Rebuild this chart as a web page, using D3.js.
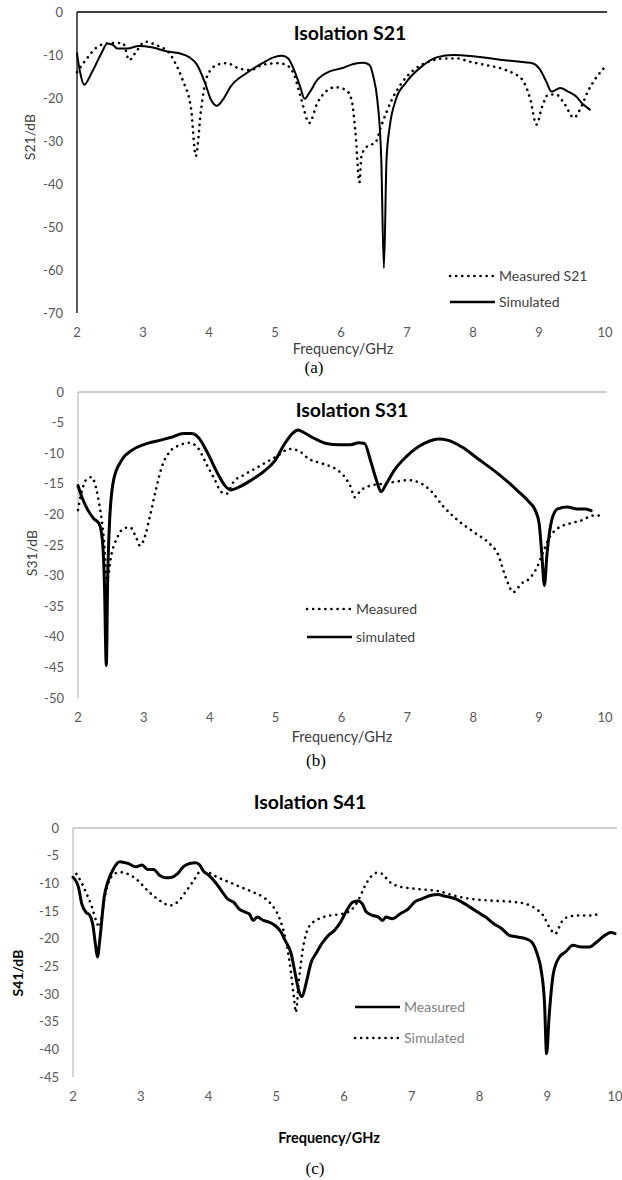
<!DOCTYPE html>
<html>
<head>
<meta charset="utf-8">
<script src="https://cdn.jsdelivr.net/npm/d3@7"></script>
<style>
  body { margin: 0; background: #fff; }
  text { font-family: Lato, "Open Sans", sans-serif; }
</style>
</head>
<body>
<div id="chart"></div>
<script>

// ---- data: [frequency GHz, dB] ----
const freqTicks = [2, 3, 4, 5, 6, 7, 8, 9, 10];
const s21Ticks = [0, -10, -20, -30, -40, -50, -60, -70];
const s31Ticks = [0, -5, -10, -15, -20, -25, -30, -35, -40, -45, -50];
const s41Ticks = [0, -5, -10, -15, -20, -25, -30, -35, -40, -45];

const s21Measured = [[2,-14],[2.13,-11.2],[2.31,-8.1],[2.46,-7.3],[2.64,-7.2],[2.7,-7.3],[2.79,-11.2],[2.88,-9.6],[3.03,-6.9],[3.2,-7.7],[3.4,-9.6],[3.49,-11.9],[3.6,-15.8],[3.73,-22.7],[3.8,-33.5],[3.88,-22.7],[3.97,-15],[4.12,-12.3],[4.27,-11.9],[4.45,-13.1],[4.63,-13.5],[4.81,-12.3],[5.05,-11.9],[5.17,-12.3],[5.29,-14.6],[5.4,-20.4],[5.52,-25.8],[5.64,-21.2],[5.77,-18.5],[5.91,-17.5],[6.07,-18.1],[6.16,-20.4],[6.22,-28.1],[6.28,-39.6],[6.31,-33.5],[6.4,-31.2],[6.52,-30.4],[6.61,-26.5],[6.77,-20.4],[6.92,-16.5],[7.1,-13.5],[7.34,-11.5],[7.58,-10.8],[7.76,-10.8],[7.94,-11.5],[8.18,-12.3],[8.42,-13.1],[8.6,-14.2],[8.75,-15.8],[8.87,-20.4],[8.96,-26.2],[9.05,-21.9],[9.14,-19.2],[9.26,-19.2],[9.38,-21.2],[9.53,-24.6],[9.62,-22.7],[9.74,-18.5],[9.86,-15.4],[9.98,-13.1]];
const s21Simulated = [[2,-9.6],[2.04,-13.5],[2.11,-16.9],[2.22,-14.2],[2.37,-9.6],[2.46,-7.3],[2.55,-7.7],[2.61,-8.5],[2.76,-8.5],[2.94,-7.9],[3.13,-8.2],[3.37,-9.2],[3.55,-9.6],[3.7,-10.5],[3.82,-12.3],[3.94,-16.5],[4.03,-20.4],[4.12,-21.8],[4.21,-20.4],[4.33,-17.3],[4.57,-14.2],[4.81,-11.9],[4.99,-10.5],[5.11,-10.2],[5.2,-10.8],[5.29,-13.5],[5.38,-17.3],[5.45,-20.2],[5.52,-18.8],[5.64,-15.8],[5.83,-13.8],[6.01,-13.1],[6.19,-12.1],[6.34,-11.8],[6.43,-12.3],[6.49,-15],[6.55,-20.4],[6.61,-34.2],[6.65,-59.6],[6.69,-34.2],[6.74,-26.5],[6.83,-20.4],[6.98,-16.5],[7.22,-12.7],[7.46,-10.5],[7.7,-10],[8.06,-10.4],[8.48,-11.2],[8.78,-11.7],[8.9,-11.9],[9.02,-13.5],[9.11,-16.2],[9.19,-18.5],[9.32,-17.7],[9.44,-18.5],[9.56,-19.6],[9.65,-21.2],[9.77,-22.7]];

const s31Measured = [[2,-19.3],[2.06,-16.1],[2.12,-14.4],[2.21,-13.9],[2.27,-15.5],[2.33,-18.8],[2.39,-23.7],[2.44,-30.8],[2.51,-26.4],[2.6,-23.7],[2.69,-22.3],[2.79,-22.1],[2.88,-23.7],[2.94,-25.1],[3.03,-23.1],[3.09,-20.4],[3.18,-16.1],[3.27,-12.3],[3.39,-9.8],[3.54,-8.7],[3.69,-8.3],[3.81,-9],[3.96,-12],[4.08,-14.4],[4.17,-16.3],[4.26,-16.6],[4.36,-14.7],[4.51,-13.6],[4.69,-12.5],[4.87,-11.4],[5.05,-10.3],[5.2,-9.3],[5.35,-9.6],[5.5,-10.9],[5.71,-11.7],[5.9,-12.5],[6.05,-13.9],[6.14,-15.5],[6.2,-17.2],[6.29,-16.1],[6.44,-15.3],[6.62,-15],[6.8,-14.7],[7.01,-14.4],[7.22,-15],[7.37,-16.3],[7.53,-18.5],[7.77,-21],[8.01,-22.9],[8.25,-24.8],[8.37,-26.4],[8.49,-30.2],[8.61,-32.7],[8.73,-31.3],[8.85,-30.5],[8.97,-28.6],[9.07,-25.9],[9.16,-23.7],[9.28,-22.3],[9.46,-21.5],[9.64,-21],[9.82,-20.2],[9.99,-20.2]];
const s31Simulated = [[2,-15.3],[2.06,-17.2],[2.15,-19.3],[2.24,-20.7],[2.32,-21.5],[2.37,-24.2],[2.4,-30.8],[2.43,-44.7],[2.45,-30.8],[2.48,-21],[2.54,-14.4],[2.66,-11.2],[2.82,-9.5],[3,-8.6],[3.24,-7.9],[3.42,-7.4],[3.6,-6.8],[3.72,-6.8],[3.84,-7.6],[3.96,-9.8],[4.11,-13.1],[4.23,-15.3],[4.32,-16],[4.45,-15.5],[4.63,-14.4],[4.84,-12.8],[4.99,-11.2],[5.14,-8.4],[5.26,-6.7],[5.34,-6.2],[5.44,-6.7],[5.59,-7.6],[5.77,-8.4],[5.96,-8.6],[6.14,-8.6],[6.26,-8.3],[6.35,-8.4],[6.44,-11.2],[6.53,-14.4],[6.6,-16.3],[6.68,-15],[6.8,-12.8],[6.98,-10.6],[7.16,-9],[7.34,-8],[7.47,-7.7],[7.62,-7.9],[7.83,-9],[8.07,-10.9],[8.37,-13.3],[8.67,-16.1],[8.85,-18],[8.94,-19.3],[9,-21.5],[9.04,-26.4],[9.08,-31.6],[9.12,-26.4],[9.19,-21],[9.28,-19.1],[9.43,-18.8],[9.58,-19.1],[9.7,-19.1],[9.79,-19.4]];

const s41Measured = [[2,-8.9],[2.08,-10.7],[2.13,-13.7],[2.19,-15.2],[2.25,-15.8],[2.29,-17.3],[2.33,-20.9],[2.36,-23.3],[2.4,-19.7],[2.46,-12.5],[2.52,-9.5],[2.6,-7.3],[2.69,-6.1],[2.81,-6.4],[2.93,-7],[3.02,-6.7],[3.1,-7.5],[3.19,-7.5],[3.28,-8.6],[3.37,-9],[3.46,-8.9],[3.54,-8.3],[3.63,-7],[3.72,-6.4],[3.81,-6.3],[3.87,-6.7],[3.92,-7.7],[4.01,-8.6],[4.1,-9.8],[4.19,-11.3],[4.28,-12.8],[4.37,-13.4],[4.45,-14.6],[4.54,-15.2],[4.6,-15.5],[4.66,-16.7],[4.72,-16.1],[4.81,-16.7],[4.89,-17],[4.98,-17.6],[5.07,-18.8],[5.13,-20.3],[5.22,-22.7],[5.27,-25.7],[5.33,-29.3],[5.38,-30.5],[5.44,-28.1],[5.51,-24.5],[5.6,-22.4],[5.69,-20.6],[5.77,-19.4],[5.86,-18.5],[5.95,-17],[6.04,-14.9],[6.13,-13.4],[6.21,-13.2],[6.27,-13.7],[6.33,-15.2],[6.42,-15.8],[6.51,-16.1],[6.57,-16.7],[6.62,-16.1],[6.71,-16.4],[6.83,-15.5],[6.95,-14.6],[7.04,-13.4],[7.15,-12.8],[7.27,-12.2],[7.39,-12],[7.48,-12.3],[7.56,-12.5],[7.65,-12.8],[7.74,-13.4],[7.86,-14.3],[7.97,-15.2],[8.09,-16.1],[8.21,-17.3],[8.33,-18.2],[8.44,-19.4],[8.56,-19.7],[8.68,-20],[8.77,-20.6],[8.85,-22.7],[8.91,-25.7],[8.96,-31.7],[8.99,-40.8],[9.03,-33.6],[9.09,-26.3],[9.18,-23.3],[9.27,-22.4],[9.38,-21.2],[9.5,-21.5],[9.62,-21.5],[9.73,-20.6],[9.85,-19.4],[9.94,-18.9],[10,-19.1]];
const s41Simulated = [[2.05,-8.3],[2.11,-9.5],[2.19,-11.6],[2.28,-14.3],[2.34,-16.7],[2.39,-17.9],[2.43,-15.5],[2.49,-11.3],[2.58,-8.6],[2.69,-8],[2.81,-8.3],[2.96,-9.5],[3.1,-11.3],[3.28,-13.1],[3.43,-14],[3.54,-13.4],[3.66,-11.6],[3.78,-9.5],[3.87,-8],[3.98,-8],[4.13,-8.9],[4.31,-9.8],[4.48,-10.7],[4.66,-11.6],[4.81,-12.5],[4.92,-13.7],[5.04,-16.1],[5.13,-19.7],[5.2,-24.5],[5.26,-30.5],[5.29,-33.3],[5.33,-28.1],[5.39,-22.1],[5.48,-17.9],[5.63,-16.4],[5.8,-15.8],[5.98,-15.5],[6.1,-14.9],[6.21,-13.1],[6.3,-10.7],[6.39,-8.9],[6.48,-8.1],[6.57,-8.3],[6.65,-9.5],[6.77,-10.4],[6.92,-10.8],[7.15,-11.1],[7.39,-11.4],[7.62,-12.2],[7.86,-12.8],[8.15,-13.1],[8.44,-13.3],[8.68,-13.7],[8.83,-14.6],[8.94,-15.8],[9.03,-17.9],[9.12,-19.1],[9.21,-17],[9.32,-16],[9.5,-15.8],[9.65,-15.8],[9.76,-15.5]];

const svg = d3.select("#chart").append("svg")
  .attr("width", 622).attr("height", 1180)
  .style("background", "#fff");

const dotted = "0.1,6";

function panel(opt) {
  const x = d3.scaleLinear().domain([2, 10]).range([opt.left, opt.right]);
  const y = d3.scaleLinear().domain([d3.min(opt.yTicks), 0]).range([opt.bottom, opt.top]);
  const g = svg.append("g");

  // axis lines (top line is the x axis crossing at 0 dB)
  g.append("line").attr("x1", x(2)).attr("x2", x(10) + 2).attr("y1", y(0)).attr("y2", y(0))
    .attr("stroke", opt.axisColor).attr("stroke-width", 1.3);
  g.append("line").attr("x1", x(2)).attr("x2", x(2)).attr("y1", y(0)).attr("y2", y(d3.min(opt.yTicks)))
    .attr("stroke", opt.axisColor).attr("stroke-width", 1.3);

  g.selectAll(".yt").data(opt.yTicks).enter().append("text")
    .attr("x", opt.left - 14).attr("y", d => y(d)).attr("dy", "0.35em")
    .attr("text-anchor", "end").attr("font-size", 13).attr("fill", "#595959")
    .text(d => d);

  g.selectAll(".xt").data(freqTicks).enter().append("text")
    .attr("x", d => x(d)).attr("y", opt.bottom + 19).attr("dy", "0.35em")
    .attr("text-anchor", "middle").attr("font-size", 13).attr("fill", "#595959")
    .text(d => d);

  const line = d3.line().x(d => x(d[0])).y(d => y(d[1])).curve(d3.curveMonotoneX);

  opt.series.forEach(s => {
    g.append("path").datum(s.data).attr("d", line)
      .attr("fill", "none").attr("stroke", "#000")
      .attr("stroke-width", s.width)
      .attr("stroke-linecap", "round").attr("stroke-linejoin", "round")
      .attr("stroke-dasharray", s.dash ? dotted : null);
  });

  // legend
  opt.series.forEach((s, i) => {
    const ly = opt.legend.y + i * opt.legend.gap;
    g.append("line").attr("x1", opt.legend.x).attr("x2", opt.legend.x + 45)
      .attr("y1", ly).attr("y2", ly)
      .attr("stroke", "#000").attr("stroke-width", 2.6)
      .attr("stroke-linecap", s.dash ? "round" : "butt")
      .attr("stroke-dasharray", s.dash ? dotted : null);
    g.append("text").attr("x", opt.legend.x + 49).attr("y", ly).attr("dy", "0.35em")
      .attr("font-size", 14).attr("fill", opt.legend.color).text(s.name);
  });

  g.append("text").attr("x", opt.title.x).attr("y", opt.title.y).attr("dy", "0.35em")
    .attr("text-anchor", "middle").attr("font-size", 19.5).attr("font-weight", "bold")
    .attr("fill", "#000").text(opt.title.text);

  g.append("text")
    .attr("transform", `translate(${opt.yLabel.x},${opt.yLabel.y}) rotate(-90)`)
    .attr("text-anchor", "middle").attr("dy", "0.35em")
    .attr("font-size", 14).attr("font-weight", opt.yLabel.bold ? "bold" : "normal")
    .attr("fill", opt.yLabel.bold ? "#000" : "#404040").text(opt.yLabel.text);

  g.append("text").attr("x", opt.xLabel.x).attr("y", opt.xLabel.y).attr("dy", "0.35em")
    .attr("text-anchor", "middle").attr("font-size", 14.5)
    .attr("font-weight", opt.xLabel.bold ? "bold" : "normal")
    .attr("fill", opt.xLabel.bold ? "#000" : "#404040").text("Frequency/GHz");

  g.append("text").attr("x", opt.caption.x).attr("y", opt.caption.y).attr("dy", "0.35em")
    .attr("text-anchor", "middle").attr("font-size", 17)
    .style("font-family", "'Liberation Serif', serif").attr("fill", "#000").text(opt.caption.text);
}

panel({
  left: 77, right: 605, top: 12, bottom: 313, yTicks: s21Ticks, axisColor: "#000",
  series: [
    { name: "Measured S21", data: s21Measured, dash: true, width: 2.6 },
    { name: "Simulated", data: s21Simulated, dash: false, width: 2 }
  ],
  legend: { x: 450, y: 276, gap: 26, color: "#404040" },
  title: { text: "Isolation S21", x: 350, y: 33 },
  yLabel: { text: "S21/dB", x: 30, y: 137 },
  xLabel: { x: 343, y: 349 },
  caption: { text: "(a)", x: 314, y: 367 }
});

panel({
  left: 78, right: 605, top: 392, bottom: 698, yTicks: s31Ticks, axisColor: "#bfbfbf",
  series: [
    { name: "Measured", data: s31Measured, dash: true, width: 2.6 },
    { name: "simulated", data: s31Simulated, dash: false, width: 3 }
  ],
  legend: { x: 307, y: 609, gap: 28, color: "#404040" },
  title: { text: "Isolation S31", x: 352, y: 410 },
  yLabel: { text: "S31/dB", x: 32, y: 553 },
  xLabel: { x: 342, y: 737 },
  caption: { text: "(b)", x: 316, y: 760 }
});

panel({
  left: 73, right: 615, top: 828, bottom: 1077, yTicks: s41Ticks, axisColor: "#bfbfbf",
  series: [
    { name: "Measured", data: s41Measured, dash: false, width: 3 },
    { name: "Simulated", data: s41Simulated, dash: true, width: 2.6 }
  ],
  legend: { x: 355, y: 1007, gap: 31, color: "#7f7f7f" },
  title: { text: "Isolation S41", x: 310, y: 802 },
  yLabel: { text: "S41/dB", x: 18, y: 973, bold: true },
  xLabel: { x: 329, y: 1138, bold: true },
  caption: { text: "(c)", x: 315, y: 1168 }
});

</script>
</body>
</html>
